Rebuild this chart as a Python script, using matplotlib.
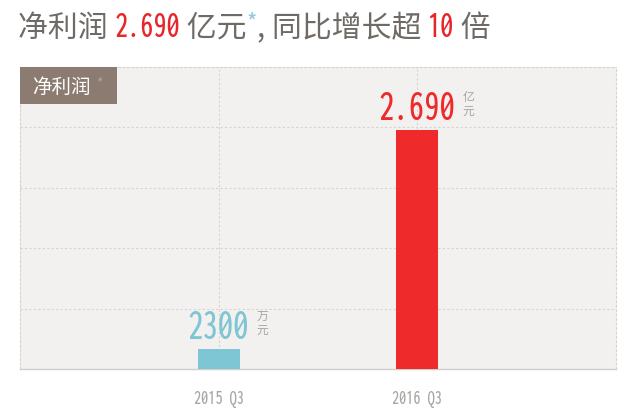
import matplotlib
matplotlib.use("Agg")
import matplotlib.pyplot as plt
from matplotlib.patches import Rectangle
from matplotlib import font_manager
from matplotlib.textpath import TextPath

plt.rcParams['font.family'] = ['Noto Sans CJK SC', 'DejaVu Sans']

categories = ["2015 Q3", "2016 Q3"]
values_wan = [2300, 26900]          # 万元
label_nums = ["2300", "2.690"]
label_units = ["万\n元", "亿\n元"]
colors = ["#7ec6d4", "#ee2a2a"]
title_parts = [("净利润 ", "gray"), ("2.690", "red"), (" 亿元", "gray"), ("*", "blue"),
               (", 同比增长超 ", "gray"), ("10", "red"), (" 倍", "gray")]


def digit_metrics(fp):
    p = TextPath((0, 0), "2300", prop=fp, size=100)
    ext = p.get_extents()
    return ext.width, ext.height


def wnum(f):
    w = f.weight
    if isinstance(w, int):
        return w
    return font_manager.weight_dict.get(str(w).lower(), 400)


# candidate condensed fonts (cheap filter by name/stretch)
cands = []
seen = set()
for f in font_manager.fontManager.ttflist:
    n = f.name.lower()
    fn = f.fname.lower()
    st = str(f.stretch).lower()
    if f.style != "normal" or fn in seen or "cjk" in n or "mono" in n or "mono" in fn \
            or fn.endswith((".ttc", ".otc")):
        continue
    if ("condensed" in n or "narrow" in n or "condensed" in fn or "narrow" in fn
            or "condensed" in st or "narrow" in st):
        if "light" in fn or "thin" in fn or "bold" in fn or "black" in fn or "semibold" in fn:
            continue
        if not (380 <= wnum(f) <= 500):
            continue
        seen.add(fn)
        cands.append(f)
    if len(cands) > 30:
        break

TARGET = 59 / 28.0   # width/height of "2300" in the reference
best = None
for f in cands:
    try:
        fp = font_manager.FontProperties(fname=f.fname)
        w, h = digit_metrics(fp)
    except Exception:
        continue
    if h <= 0:
        continue
    r = abs(w / h - TARGET)
    if best is None or r < best[0]:
        best = (r, fp, h / 100.0)
if best is None:
    fp = font_manager.FontProperties(family="DejaVu Sans")
    w, h = digit_metrics(fp)
    best = (w / h, fp, h / 100.0)
NARROW_FP = best[1]
DIGIT_FRAC = best[2]     # digit height as fraction of em


def nfp(digit_px):
    fp = NARROW_FP.copy()
    fp.set_size(digit_px / DIGIT_FRAC * 72 / 100)
    return fp


W, H = 628, 420
fig = plt.figure(figsize=(W / 100, H / 100), dpi=100)
fig.patch.set_facecolor("white")

ax = fig.add_axes([20 / W, 51 / H, 596 / W, 302 / H])
ax.set_facecolor("#f3f1f0")
x = list(range(len(categories)))
ymax = 26900 * 302 / 239
ax.bar(x, values_wan, width=0.21, color=colors, zorder=3)
ax.set_xlim(-1, 2)
ax.set_ylim(0, ymax)
ax.set_yticks([ymax * i / 5 for i in range(1, 5)])
ax.set_yticklabels([])
ax.set_xticks(x)
ax.set_xticklabels(categories, color="#aaa6a3")
for lab in ax.get_xticklabels():
    lab.set_fontproperties(nfp(13))
ax.tick_params(length=0, pad=15)
ax.tick_params(axis='y', length=0)
ax.grid(True, color="#d6d3d1", linestyle=(0, (2, 2)), linewidth=0.8, zorder=0)
for s in ["top", "left", "right"]:
    ax.spines[s].set_color("#d6d3d1")
    ax.spines[s].set_linestyle((0, (2, 2)))
    ax.spines[s].set_linewidth(0.8)
ax.spines["bottom"].set_color("#d0cdcb")
ax.spines["bottom"].set_linewidth(1.0)

# value labels
for xi, v, num, unit, c in zip(x, values_wan, label_nums, label_units, colors):
    t = ax.annotate(num, (xi, v), xytext=(0, 7), textcoords="offset points",
                    ha="center", va="baseline", fontproperties=nfp(28), color=c)
    ax.annotate(unit, xy=(1, 0.25), xycoords=t, xytext=(5, 0), textcoords="offset points",
                ha="left", va="bottom", fontsize=8.5, color="#a8a4a1", linespacing=1.1)

# label box
fig.add_artist(Rectangle((20 / W, 1 - 104 / H), 97 / W, 37 / H, transform=fig.transFigure,
                         facecolor="#8c7b71", edgecolor="none", zorder=5))
fig.text(32 / W, 1 - 93 / H, "净利润", color="white", fontsize=14, va="baseline", zorder=6)
fig.text(96 / W, 1 - 87 / H, "*", color="#b0a49c", fontsize=10, va="baseline", zorder=6)

# title
cmap = {"gray": "#6f6a66", "red": "#e8262a", "blue": "#8fcbd8"}
renderer = fig.canvas.get_renderer()
xpos = 18
base = 1 - 37 / H
for txt, col in title_parts:
    yb = base
    if col == "red":
        kw = dict(fontproperties=nfp(24))
    elif col == "blue":
        kw = dict(fontsize=16)
        yb = base + 8 / H
    else:
        kw = dict(fontsize=21.5)
    t = fig.text(xpos / W, yb, txt, color=cmap[col], va="baseline", ha="left", **kw)
    bb = t.get_window_extent(renderer)
    xpos = bb.x1

fig.savefig("out.png", dpi=100)
